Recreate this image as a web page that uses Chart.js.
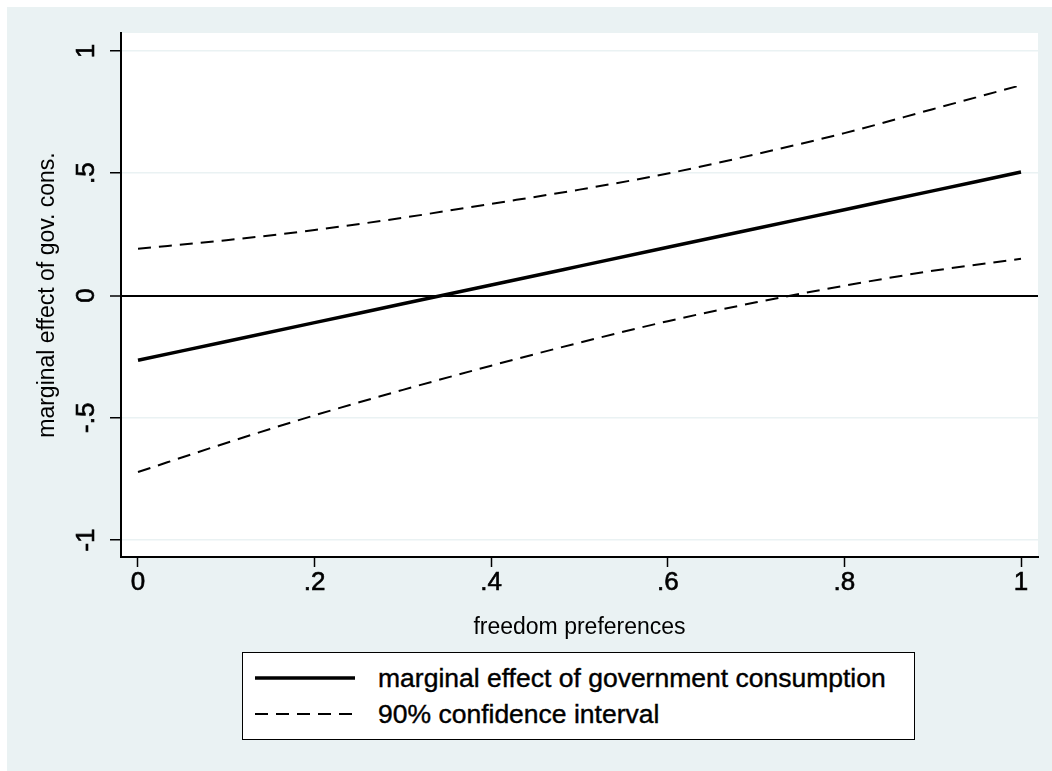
<!DOCTYPE html>
<html>
<head>
<meta charset="utf-8">
<script src="https://cdn.jsdelivr.net/npm/chart.js@4.4.1/dist/chart.umd.min.js"></script>
<style>
	html, body { margin: 0; padding: 0; background: #fff; }
	#wrap { position: relative; width: 1052px; height: 771px; }
	#chart { position: absolute; left: 0; top: 0; }
	#legend {
		position: absolute; left: 242px; top: 652px; width: 673px; height: 88px;
		box-sizing: border-box; border: 1px solid #000; background: #fff;
		font-family: "Liberation Sans", Arial, sans-serif; font-size: 26.5px; color: #000;
		-webkit-text-stroke: 0.4px #000;
	}
	.row { position: absolute; left: 0; width: 100%; height: 30px; line-height: 30px; white-space: nowrap; }
	.row svg { position: absolute; left: 12px; top: 10px; }
	.row span { position: absolute; left: 135px; top: 0; }
</style>
</head>
<body>
<div id="wrap">
	<canvas id="chart" width="1052" height="771"></canvas>
	<div id="legend">
		<div class="row" style="top:10px">
			<svg width="100" height="10"><line x1="0" y1="5" x2="100" y2="5" stroke="#000" stroke-width="3.5"/></svg>
			<span id="lab0"></span>
		</div>
		<div class="row" style="top:46px">
			<svg width="100" height="10"><line x1="0" y1="5" x2="100" y2="5" stroke="#000" stroke-width="2" stroke-dasharray="13 8"/></svg>
			<span id="lab1"></span>
		</div>
	</div>
</div>
<script>
// --- Data ---
const xValues = [0, 0.1, 0.2, 0.3, 0.4, 0.5, 0.6, 0.7, 0.8, 0.9, 1];
const effectValues = [-0.265, -0.188, -0.111, -0.034, 0.043, 0.12, 0.197, 0.274, 0.351, 0.428, 0.505];
const upperValues = [0.191, 0.226, 0.268, 0.318, 0.375, 0.433, 0.499, 0.578, 0.664, 0.762, 0.86];
const lowerValues = [-0.722, -0.603, -0.49, -0.386, -0.287, -0.193, -0.105, -0.028, 0.04, 0.101, 0.15];

const xTickValues = [0, 0.2, 0.4, 0.6, 0.8, 1];
const xTickLabels = ["0", ".2", ".4", ".6", ".8", "1"];
const yTickValues = [-1, -0.5, 0, 0.5, 1];
const yTickLabels = ["-1", "-.5", "0", ".5", "1"];

const seriesLabels = ["marginal effect of government consumption", "90% confidence interval"];
const xTitle = "freedom preferences";
const yTitle = "marginal effect of gov. cons.";

const FONT = '"Liberation Sans", Arial, sans-serif';
const BG = "#eaf2f3";

function toPoints(ys) {
	return xValues.map((x, i) => ({ x: x, y: ys[i] }));
}

// paints the graph region and the white plot region
const backgroundPlugin = {
	id: "background",
	beforeDraw(chart) {
		const { ctx, chartArea } = chart;
		ctx.save();
		ctx.fillStyle = "#fff";
		ctx.fillRect(0, 0, chart.width, chart.height);
		ctx.fillStyle = BG;
		ctx.fillRect(7, 7, chart.width - 7, chart.height - 7);
		ctx.fillStyle = "#fff";
		ctx.fillRect(chartArea.left, chartArea.top, chartArea.right - chartArea.left, chartArea.bottom - chartArea.top);
		ctx.restore();
	},
};

document.getElementById("lab0").textContent = seriesLabels[0];
document.getElementById("lab1").textContent = seriesLabels[1];

const lineStyle = { pointRadius: 0, pointHoverRadius: 0, fill: false, cubicInterpolationMode: "monotone" };

new Chart(document.getElementById("chart").getContext("2d"), {
	type: "line",
	data: {
		datasets: [
			Object.assign({ label: seriesLabels[0], data: toPoints(effectValues), borderColor: "#000", borderWidth: 3.5 }, lineStyle),
			Object.assign({ label: seriesLabels[1], data: toPoints(upperValues), borderColor: "#000", borderWidth: 2, borderDash: [13, 8] }, lineStyle),
			Object.assign({ label: seriesLabels[1], data: toPoints(lowerValues), borderColor: "#000", borderWidth: 2, borderDash: [13, 8] }, lineStyle),
		],
	},
	options: {
		responsive: false,
		animation: false,
		devicePixelRatio: 1,
		layout: { padding: { left: 0, top: 33, right: 14, bottom: 114 } },
		plugins: { legend: { display: false }, tooltip: { enabled: false } },
		scales: {
			x: {
				type: "linear",
				min: -0.01925,
				max: 1.01925,
				afterBuildTicks: (s) => { s.ticks = xTickValues.map((v) => ({ value: v })); },
				afterFit: (s) => { s.height = 100; },
				ticks: {
					padding: 0,
					color: "#000",
					textStrokeColor: "#000",
					textStrokeWidth: 0.6,
					font: { family: FONT, size: 26 },
					maxRotation: 0,
					autoSkip: false,
					callback: (v, i) => xTickLabels[i],
				},
				grid: { drawOnChartArea: false, tickLength: 10, tickColor: "#000", tickWidth: 1.5 },
				border: { display: true, color: "#000", width: 2 },
				title: { display: true, text: xTitle, color: "#000", font: { family: FONT, size: 23 }, padding: { top: 0, bottom: 16 } },
			},
			y: {
				min: -1.0695,
				max: 1.0736,
				afterBuildTicks: (s) => { s.ticks = yTickValues.map((v) => ({ value: v })); },
				afterFit: (s) => { s.width = 121; },
				ticks: {
					padding: 8,
					color: "#000",
					textStrokeColor: "#000",
					textStrokeWidth: 0.6,
					font: { family: FONT, size: 26 },
					minRotation: 90,
					maxRotation: 90,
					crossAlign: "center",
					autoSkip: false,
					callback: (v, i) => yTickLabels[i],
				},
				grid: {
					color: (c) => (c.tick && c.tick.value === 0 ? "#000" : BG),
					lineWidth: (c) => (c.tick && c.tick.value === 0 ? 2 : 1.5),
					tickLength: 11,
					tickColor: "#000",
					tickWidth: 1.5,
				},
				border: { display: true, color: "#000", width: 2 },
				title: { display: true, text: yTitle, color: "#000", font: { family: FONT, size: 23 }, padding: { top: 34, bottom: 0 } },
			},
		},
	},
	plugins: [backgroundPlugin],
});
</script>
</body>
</html>
